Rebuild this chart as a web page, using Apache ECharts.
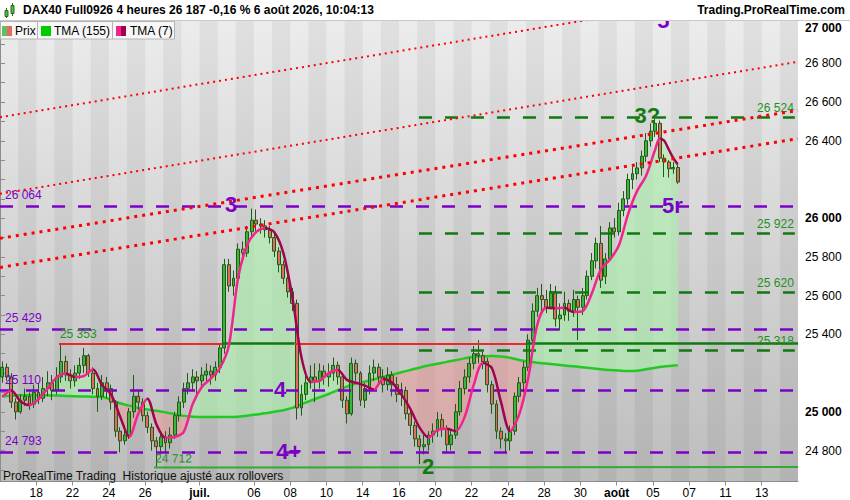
<!DOCTYPE html>
<html>
<head>
    <meta charset="utf-8">
    <title>DAX40 Full0926 4 heures</title>
    <script src="https://cdn.jsdelivr.net/npm/echarts@6.0.0/dist/echarts.min.js"></script>
    <style>
        html, body { margin: 0; padding: 0; background: #fff; }
        #main { width: 850px; height: 500px; }
    </style>
</head>
<body>
<div id="main"></div>
<script type="text/javascript">
    // one slot = one 4 hour candle, 4 slots per trading day, 44 trading days (16 juin -> 14 août)
    var slotCount = 176;
    var slotsPerDay = 4;

    // day index (0 = 16 juin) of each date label under the chart
    var dayTicks = [2, 4, 6, 8, 11, 14, 16, 18, 20, 22, 24, 26, 28, 30, 32, 34, 36, 38, 40, 42];
    var dayTickText = ['18', '22', '24', '26', 'juil.', '06', '08', '10', '14', '16', '20', '22', '24', '28', '30', 'août', '05', '07', '11', '13'];
    // 25 200 and 26 200 sit under the last-value boxes
    var priceTicks = [24800, 25000, 25400, 25600, 25800, 26000, 26400, 26600, 26800, 27000];

    // 4h candles
    var opens = [
        25180, 25230, 25180, 25050, 25000, 25060, 25080, 25040, 25100, 25070,
        25120, 25150, 25110, 25180, 25260, 25190, 25160, 25200, 25240, 25290,
        25200, 25120, 25080, 25150, 25120, 25050, 24900, 24850, 24880, 25000,
        25080, 25050, 24980, 24920, 24850, 24820, 24870, 24840, 24880, 24980,
        25050, 25120, 25150, 25180, 25160, 25190, 25210, 25190, 25230, 25330,
        25760, 25650, 25690, 25840, 25820, 25930, 25990, 25970, 25960, 25940,
        25900, 25830, 25760, 25690, 25620, 25560, 25020, 25090, 25150, 25180,
        25160, 25210, 25180, 25200, 25240, 25180, 25060, 24990, 25250, 25200,
        25060, 25120, 25200, 25230, 25180, 25140, 25190, 25140, 25090, 25110,
        24990, 24930, 24860, 24820, 24830, 24880, 24900, 24960, 24910, 24830,
        24880, 25000, 25120, 25180, 25250, 25300, 25290, 25260, 25140, 25040,
        24900, 24860, 24850, 24900, 25080, 25150, 25230, 25370, 25520, 25600,
        25580, 25540, 25620, 25480, 25500, 25560, 25520, 25580, 25540, 25600,
        25700, 25780, 25870, 25700, 25790, 25950, 25930, 26040, 26100, 26200,
        26230, 26260, 26320, 26400, 26450, 26490, 26310, 26290, 26255, 26262
    ];
    var closes = [
        25230, 25180, 25050, 25000, 25060, 25080, 25040, 25100, 25070, 25120,
        25150, 25110, 25180, 25260, 25190, 25160, 25200, 25240, 25290, 25200,
        25120, 25080, 25150, 25120, 25050, 24900, 24850, 24880, 25000, 25080,
        25050, 24980, 24920, 24850, 24820, 24870, 24840, 24880, 24980, 25050,
        25120, 25150, 25180, 25160, 25190, 25210, 25190, 25230, 25330, 25760,
        25650, 25690, 25840, 25820, 25930, 25990, 25970, 25960, 25940, 25900,
        25830, 25760, 25690, 25620, 25560, 25020, 25090, 25150, 25180, 25160,
        25210, 25180, 25200, 25240, 25180, 25060, 24990, 25250, 25200, 25060,
        25120, 25200, 25230, 25180, 25140, 25190, 25140, 25090, 25110, 24990,
        24930, 24860, 24820, 24830, 24880, 24900, 24960, 24910, 24830, 24880,
        25000, 25120, 25180, 25250, 25300, 25290, 25260, 25140, 25040, 24900,
        24860, 24850, 24900, 25080, 25150, 25230, 25370, 25520, 25600, 25580,
        25540, 25620, 25480, 25500, 25560, 25520, 25580, 25540, 25600, 25700,
        25780, 25870, 25680, 25790, 25950, 25930, 26040, 26100, 26200, 26230,
        26260, 26320, 26400, 26450, 26490, 26310, 26290, 26255, 26262, 26187
    ];
    var lows = [
        25150, 25160, 25020, 24960, 24990, 25030, 25010, 25020, 25040, 25050,
        25080, 25060, 25090, 25150, 25160, 25120, 25130, 25170, 25200, 25180,
        25090, 25000, 25060, 25070, 25010, 24870, 24790, 24830, 24860, 24970,
        25010, 24950, 24890, 24800, 24712, 24780, 24790, 24810, 24860, 24950,
        25020, 25090, 25110, 25070, 25130, 25150, 25140, 25160, 25200, 25300,
        25620, 25600, 25680, 25780, 25800, 25900, 25930, 25920, 25900, 25870,
        25800, 25720, 25660, 25590, 25520, 24960, 24980, 25060, 25120, 25050,
        25120, 25140, 25130, 25160, 25140, 25020, 24940, 24980, 25160, 25030,
        25020, 25090, 25160, 25140, 25100, 25110, 25080, 25050, 25030, 24960,
        24880, 24820, 24730, 24780, 24800, 24840, 24870, 24870, 24790, 24800,
        24860, 24980, 25090, 25150, 25220, 25250, 25220, 25100, 24990, 24860,
        24810, 24790, 24800, 24880, 25050, 25100, 25210, 25350, 25490, 25520,
        25510, 25530, 25440, 25420, 25470, 25470, 25490, 25370, 25500, 25580,
        25680, 25740, 25640, 25660, 25780, 25900, 25910, 26010, 26070, 26150,
        26200, 26220, 26290, 26370, 26420, 26290, 26212, 26210, 26230, 26178
    ];
    var highs = [
        25260, 25250, 25200, 25070, 25090, 25120, 25100, 25140, 25150, 25180,
        25210, 25190, 25230, 25353, 25290, 25220, 25240, 25280, 25330, 25300,
        25230, 25150, 25190, 25180, 25140, 25060, 24920, 24930, 25020, 25190,
        25110, 25070, 25000, 24940, 24870, 24900, 24900, 24920, 25000, 25080,
        25150, 25200, 25220, 25210, 25230, 25250, 25240, 25260, 25350, 25790,
        25790, 25730, 25870, 25880, 25960, 26050, 26045, 26000, 25990, 25960,
        25920, 25850, 25780, 25710, 25640, 25580, 25140, 25190, 25240, 25250,
        25250, 25240, 25250, 25280, 25260, 25200, 25080, 25280, 25270, 25210,
        25150, 25240, 25270, 25250, 25220, 25230, 25210, 25180, 25150, 25130,
        25010, 24950, 24880, 24880, 24900, 24940, 25000, 24990, 24930, 24910,
        25040, 25160, 25220, 25280, 25340, 25370, 25310, 25280, 25160, 25060,
        24920, 24890, 24930, 25100, 25180, 25260, 25400, 25560, 25640, 25660,
        25630, 25660, 25650, 25560, 25620, 25580, 25630, 25600, 25640, 25730,
        25820, 25900, 25960, 25820, 25980, 26000, 26080, 26140, 26230, 26270,
        26290, 26350, 26440, 26490, 26512, 26505, 26330, 26300, 26290, 26275
    ];

    // moving averages, read at these candle indexes
    var tmaIdx = [
        0, 2, 4, 6, 8, 10, 12, 14, 16, 18,
        20, 22, 24, 26, 28, 30, 32, 34, 36, 38,
        40, 42, 44, 46, 48, 50, 52, 54, 56, 58,
        60, 62, 64, 66, 68, 70, 72, 74, 76, 78,
        80, 82, 84, 86, 88, 90, 92, 94, 96, 98,
        100, 102, 104, 106, 108, 110, 112, 114, 116, 118,
        120, 122, 124, 126, 128, 130, 132, 134, 136, 138,
        140, 142, 144, 145, 146, 147, 148, 149
    ];
    var tma7 = [
        25077, 25110, 25055, 25035, 25065, 25120, 25178, 25198, 25180, 25185,
        25218, 25138, 25090, 24975, 24870, 24990, 25068, 24935, 24866, 24870,
        24895, 25040, 25128, 25172, 25225, 25345, 25690, 25860, 25928, 25948,
        25928, 25820, 25590, 25280, 25155, 25160, 25200, 25216, 25165, 25150,
        25135, 25115, 25170, 25150, 25090, 25015, 24920, 24868, 24905, 24912,
        24900, 24975, 25140, 25252, 25225, 25050, 24900, 24985, 25175, 25450,
        25538, 25535, 25537, 25515, 25520, 25610, 25735, 25785, 25860, 26020,
        26140, 26220, 26355, 26412, 26400, 26355, 26310, 26277
    ];
    var tma155 = [
        25081, 25083, 25085, 25086, 25086, 25085, 25084, 25082, 25080, 25079,
        25078, 25076, 25062, 25044, 25032, 25020, 25012, 25005, 24997, 24988,
        24979, 24975, 24973, 24973, 24973, 24973, 24974, 24980, 24986, 24992,
        25000, 25008, 25020, 25040, 25057, 25075, 25092, 25112, 25130, 25146,
        25156, 25168, 25180, 25192, 25204, 25216, 25228, 25239, 25248, 25258,
        25266, 25276, 25284, 25287, 25288, 25286, 25279, 25268, 25259, 25254,
        25249, 25245, 25239, 25235, 25230, 25225, 25220, 25216, 25213, 25211,
        25212, 25220, 25228, 25231, 25234, 25237, 25239, 25241
    ];

    // horizontal levels
    var purpleLevels = [26064, 25429, 25110, 24793];
    var greenLevels = [26524, 25922, 25620, 25318];
    var fibStartSlot = 92.4;
    var resistance = 25353;
    var supportLeft = 24712;
    var supportRight = 24715;

    // sloped channel lines: price at slot 0 and at the last slot
    var channelStart = [26522, 26126, 25896, 25746];
    var channelEnd = [27204, 26808, 26557, 26411];
    var channelThick = [false, false, true, true];

    // wave counts
    var waveText = ['3', '4', '4+', '5', '5r', '3?', '2'];
    var waveSlot = [51.0, 61.8, 63.7, 146.3, 148.3, 142.8, 94.4];
    var wavePrice = [26070, 25115, 24795, 27024, 26068, 26532, 24720];

    var font = 'Liberation Sans, Arial, sans-serif';
    var purple = '#7c00c6';
    var darkGreen = '#0f7a0f';
    var labelGreen = '#1f8f1f';

    function fmt(v) {
        return String(Math.round(v)).replace(/\B(?=(\d{3})+(?!\d))/g, ' ');
    }

    var myChart = echarts.init(document.getElementById('main'), null, {renderer: 'svg'});

    var cats = [];
    for (var i = 0; i < slotCount; i++) cats.push(String(i));

    var candleData = opens.map(function (o, i) {
        return [o, closes[i], lows[i], highs[i]];
    });

    var tmaX = tmaIdx.map(function (k) { return k + 0.5; });
    var tma7Data = tmaX.map(function (x, j) { return [x, tma7[j]]; });
    var tma155Data = tmaX.map(function (x, j) { return [x, tma155[j]]; });
    // fills between the two averages, stacked on the candle (category) axis
    var greenBase = tmaIdx.map(function (k, j) { return [k, tma155[j]]; });
    var greenFill = tmaIdx.map(function (k, j) { return [k, Math.max(tma7[j] - tma155[j], 0)]; });
    var redBase = tmaIdx.map(function (k, j) { return [k, Math.min(tma7[j], tma155[j])]; });
    var redFill = tmaIdx.map(function (k, j) { return [k, Math.max(tma155[j] - tma7[j], 0)]; });

    // TMA(7) is maroon when falling, pink when rising
    var fallPieces = [];
    for (var j = 0; j < tma7.length - 1; j++) {
        if (tma7[j + 1] < tma7[j]) {
            fallPieces.push({gte: tmaX[j], lte: tmaX[j + 1], color: '#a0044e'});
        }
    }

    // day stripes
    var stripes = [];
    for (var d = 1; d < slotCount / slotsPerDay; d += 2) {
        stripes.push([{xAxis: d * slotsPerDay}, {xAxis: (d + 1) * slotsPerDay}]);
    }

    // level lines
    var purpleLines = purpleLevels.map(function (v) {
        return [{
            coord: [0, v],
            label: {show: true, position: 'insideStartTop', formatter: fmt(v), color: purple, fontSize: 12, fontFamily: font}
        }, {coord: [175, v]}];
    });
    var greenLines = greenLevels.map(function (v) {
        return [{
            coord: [fibStartSlot, v],
            label: {show: true, position: 'insideEndTop', formatter: fmt(v), color: labelGreen, fontSize: 12, fontFamily: font, distance: [1, 3]}
        }, {coord: [175.3, v]}];
    });

    // resistance line: red while closes stay under it, green above
    var resStart = highs.indexOf(resistance);
    var resSegs = [];
    var cur = null;
    for (var k = resStart; k < closes.length; k++) {
        var up = closes[k] > resistance;
        if (!cur || cur.up !== up) {
            cur = {up: up, from: k};
            resSegs.push(cur);
        }
    }
    var resLines = resSegs.map(function (s, n) {
        var to = n + 1 < resSegs.length ? resSegs[n + 1].from : slotCount;
        var item = {
            coord: [s.from, resistance],
            lineStyle: {color: s.up ? darkGreen : '#e82a2a', width: s.up ? 2.5 : 2, type: 'solid'}
        };
        if (n === 0) {
            item.label = {show: true, position: 'insideStartTop', formatter: fmt(resistance), color: labelGreen, fontSize: 12, fontFamily: font, distance: [1, 3]};
        }
        return [item, {coord: [to, resistance]}];
    });

    var supStart = lows.indexOf(supportLeft);
    var supLines = [
        [{
            coord: [supStart, supportLeft],
            label: {show: true, position: 'insideStartTop', formatter: fmt(supportLeft), color: labelGreen, fontSize: 12, fontFamily: font, distance: [1, 3]}
        }, {coord: [slotCount, supportRight]}],
        [{
            coord: [supStart, supportLeft],
            lineStyle: {opacity: 0},
            label: {show: true, position: 'insideEndTop', formatter: fmt(supportRight), color: labelGreen, fontSize: 12, fontFamily: font, distance: [4, 3]}
        }, {coord: [slotCount - 0.6, supportRight]}]
    ];

    function markerSeries(lines, lineStyle, z) {
        return {
            type: 'line', xAxisIndex: 1, data: [], silent: true, z: z,
            markLine: {silent: true, symbol: ['none', 'none'], animation: false, lineStyle: lineStyle, data: lines}
        };
    }

    function stackPart(data, stack, fill) {
        var s = {
            type: 'line', xAxisIndex: 0, data: data, stack: stack, smooth: 0.3,
            symbol: 'none', silent: true, z: 2, lineStyle: {width: 0, opacity: 0}
        };
        if (fill) s.areaStyle = {color: fill, opacity: 1};
        return s;
    }

    var series = [];
    series.push({
        type: 'line', xAxisIndex: 1, data: [], silent: true, z: 1,
        markArea: {silent: true, animation: false, itemStyle: {color: 'rgba(0,0,0,0.05)'}, data: stripes}
    });
    series.push(stackPart(greenBase, 'g', null));
    series.push(stackPart(greenFill, 'g', 'rgba(170,240,170,0.6)'));
    series.push(stackPart(redBase, 'r', null));
    series.push(stackPart(redFill, 'r', 'rgba(240,150,150,0.5)'));
    series.push({
        name: 'TMA (155)', type: 'line', xAxisIndex: 1, data: tma155Data, smooth: 0.3,
        symbol: 'none', silent: true, z: 3, lineStyle: {color: '#22c922', width: 2.5}
    });
    series.push({
        name: 'Prix', type: 'candlestick', xAxisIndex: 0, data: candleData, barWidth: 3.4, z: 4,
        itemStyle: {color: '#3db53d', color0: '#e46b63', borderColor: '#1d5c12', borderColor0: '#1d5c12', borderWidth: 1}
    });
    series.push(markerSeries(purpleLines, {color: purple, width: 2.6, type: [13, 13]}, 5));
    series.push(markerSeries(greenLines, {color: darkGreen, width: 2.6, type: [13, 13]}, 5));
    series.push(markerSeries(resLines, {type: 'solid'}, 5));
    series.push(markerSeries(supLines, {color: '#33aa33', width: 2, type: 'solid'}, 5));
    var tma7Index = series.length;
    series.push({
        name: 'TMA (7)', type: 'line', xAxisIndex: 1, data: tma7Data, smooth: 0.3,
        symbol: 'none', silent: true, z: 6, lineStyle: {width: 2.5}
    });
    channelStart.forEach(function (v, n) {
        series.push({
            type: 'line', xAxisIndex: 1, data: [[0, v], [slotCount, channelEnd[n]]],
            symbol: 'none', silent: true, z: 7,
            lineStyle: channelThick[n]
                ? {color: '#ff0000', width: 3, type: [3, 5], cap: 'butt'}
                : {color: '#ff0000', width: 2, type: [2, 4], cap: 'butt'}
        });
    });
    series.push({
        type: 'scatter', xAxisIndex: 1, clip: false, symbolSize: 1, silent: true, z: 8,
        itemStyle: {color: 'rgba(0,0,0,0)'},
        data: waveText.map(function (t, n) {
            return {
                value: [waveSlot[n], wavePrice[n]],
                label: {
                    show: true, position: 'inside', formatter: t, opacity: 1,
                    color: n >= 5 ? '#137a13' : purple,
                    textBorderWidth: 0, textBorderColor: 'transparent',
                    fontSize: 22, fontWeight: 'bold', fontFamily: font
                }
            };
        })
    });
    var lastTma7 = tma7[tma7.length - 1];
    var lastClose = closes[closes.length - 1];
    var lastTma155 = tma155[tma155.length - 1];
    var boxLabel = {show: true, position: 'end', distance: 3, fontSize: 12, fontFamily: font, lineHeight: 12, padding: [0, 3, 0, 3], borderWidth: 1};
    series.push(markerSeries([
        {yAxis: lastTma7, label: Object.assign({}, boxLabel, {formatter: fmt(lastTma7), color: '#9c1c5c', backgroundColor: '#c6c6c6', borderColor: '#9a9a9a'})},
        {yAxis: lastClose, label: Object.assign({}, boxLabel, {formatter: fmt(lastClose), color: '#000', backgroundColor: '#ffd000', borderColor: '#c09a00'})},
        {yAxis: lastTma155, label: Object.assign({}, boxLabel, {formatter: fmt(lastTma155), color: '#22aa22', backgroundColor: '#c6c6c6', borderColor: '#9a9a9a'})}
    ], {opacity: 0}, 9));

    var minorTicks = [];
    for (var p = 24700; p <= 27000; p += 100) minorTicks.push(p);

    var option = {
        animation: false,
        textStyle: {fontFamily: font},
        grid: {
            left: -2, right: 52, top: 20, bottom: 18.5, show: true, borderWidth: 0,
            backgroundColor: new echarts.graphic.LinearGradient(0, 0, 0, 1, [
                {offset: 0, color: '#ececec'},
                {offset: 1, color: '#bdbdbd'}
            ])
        },
        visualMap: {
            show: false, type: 'piecewise', dimension: 0, seriesIndex: tma7Index,
            pieces: fallPieces, outOfRange: {color: '#f2238c'}
        },
        xAxis: [{
            type: 'category', data: cats, show: false, boundaryGap: true, position: 'bottom'
        }, {
            type: 'value', min: 0, max: slotCount, position: 'bottom',
            splitLine: {show: false},
            axisLine: {show: true, onZero: false, lineStyle: {color: '#8c8c8c'}},
            axisTick: {show: true, length: 4, customValues: dayTicks.map(function (d) { return d * slotsPerDay; }), lineStyle: {color: '#8c8c8c'}},
            axisLabel: {
                customValues: dayTicks.map(function (d) { return d * slotsPerDay; }),
                color: '#000', fontSize: 12, margin: 5,
                formatter: function (v) {
                    var t = dayTickText[dayTicks.indexOf(Math.round(v / slotsPerDay))] || '';
                    return /^\d/.test(t) ? t : '{b|' + t + '}';
                },
                rich: {b: {fontWeight: 'bold', fontSize: 12, color: '#000', fontFamily: font}}
            }
        }],
        yAxis: {
            type: 'value', position: 'right', min: 24640, max: 27024, scale: true,
            splitLine: {show: false},
            axisLine: {show: true, lineStyle: {color: '#8c8c8c'}},
            axisTick: {show: true, length: 5, customValues: minorTicks, lineStyle: {color: '#8c8c8c'}},
            axisLabel: {
                customValues: priceTicks, margin: 7, color: '#000', fontSize: 12,
                formatter: function (v) {
                    if (v === 27000) return '{t|' + fmt(v) + '}';
                    return v % 1000 === 0 ? '{b|' + fmt(v) + '}' : fmt(v);
                },
                rich: {
                    b: {fontWeight: 'bold', fontSize: 12, color: '#000', fontFamily: font},
                    t: {fontWeight: 'bold', fontSize: 12, color: '#000', fontFamily: font, padding: [7, 0, 0, 0]}
                }
            }
        },
        graphic: [
            {type: 'rect', z: 100, shape: {x: 0, y: 0, width: 850, height: 20}, style: {fill: '#ffffff'}},
            {type: 'line', z: 100, shape: {x1: 0, y1: 20.5, x2: 850, y2: 20.5}, style: {stroke: '#c8c8c8', lineWidth: 1}},
            {type: 'line', z: 101, shape: {x1: 6.5, y1: 8, x2: 6.5, y2: 18}, style: {stroke: '#2a6a1a', lineWidth: 1}},
            {type: 'rect', z: 101, shape: {x: 5, y: 10.5, width: 3, height: 6}, style: {fill: '#42bd42', stroke: '#2a6a1a', lineWidth: 1}},
            {type: 'line', z: 101, shape: {x1: 12.5, y1: 3, x2: 12.5, y2: 16}, style: {stroke: '#2a6a1a', lineWidth: 1}},
            {type: 'rect', z: 101, shape: {x: 11, y: 5.5, width: 3, height: 8}, style: {fill: '#42bd42', stroke: '#2a6a1a', lineWidth: 1}},
            {type: 'text', z: 101, x: 23, y: 10, style: {text: 'DAX40 Full0926 4 heures 26 187 -0,16 % 6 août 2026, 10:04:13', font: 'bold 12px ' + font, fill: '#000', textVerticalAlign: 'middle'}},
            {type: 'text', z: 101, x: 845, y: 10, style: {text: 'Trading.ProRealTime.com', font: 'bold 12px ' + font, fill: '#000', textAlign: 'right', textVerticalAlign: 'middle'}},
            {type: 'rect', z: 100, shape: {x: 0.5, y: 21.5, width: 174, height: 17.5}, style: {fill: '#f7f7f7', stroke: '#b4b4b4', lineWidth: 1}},
            {type: 'rect', z: 101, shape: {x: 2, y: 26, width: 5, height: 10}, style: {fill: '#5cc05c'}},
            {type: 'rect', z: 101, shape: {x: 7, y: 26, width: 5, height: 10}, style: {fill: '#e46b63'}},
            {type: 'text', z: 101, x: 15, y: 30.5, style: {text: 'Prix', font: '12px ' + font, fill: '#000', textVerticalAlign: 'middle'}},
            {type: 'line', z: 101, shape: {x1: 37.5, y1: 22, x2: 37.5, y2: 39}, style: {stroke: '#b4b4b4', lineWidth: 1}},
            {type: 'rect', z: 101, shape: {x: 41, y: 26, width: 10, height: 10}, style: {fill: '#00cc00'}},
            {type: 'text', z: 101, x: 54, y: 30.5, style: {text: 'TMA (155)', font: '12px ' + font, fill: '#000', textVerticalAlign: 'middle'}},
            {type: 'line', z: 101, shape: {x1: 112.5, y1: 22, x2: 112.5, y2: 39}, style: {stroke: '#b4b4b4', lineWidth: 1}},
            {type: 'rect', z: 101, shape: {x: 116, y: 26, width: 5, height: 10}, style: {fill: '#f2238c'}},
            {type: 'rect', z: 101, shape: {x: 121, y: 26, width: 5, height: 10}, style: {fill: '#a0044e'}},
            {type: 'text', z: 101, x: 130, y: 30.5, style: {text: 'TMA (7)', font: '12px ' + font, fill: '#000', textVerticalAlign: 'middle'}},
            {type: 'text', z: 101, x: 3, y: 476, style: {text: 'ProRealTime Trading  Historique ajusté aux rollovers', font: '12px ' + font, fill: '#111', textVerticalAlign: 'middle'}}
        ],
        series: series
    };

    myChart.setOption(option);
</script>
</body>
</html>
